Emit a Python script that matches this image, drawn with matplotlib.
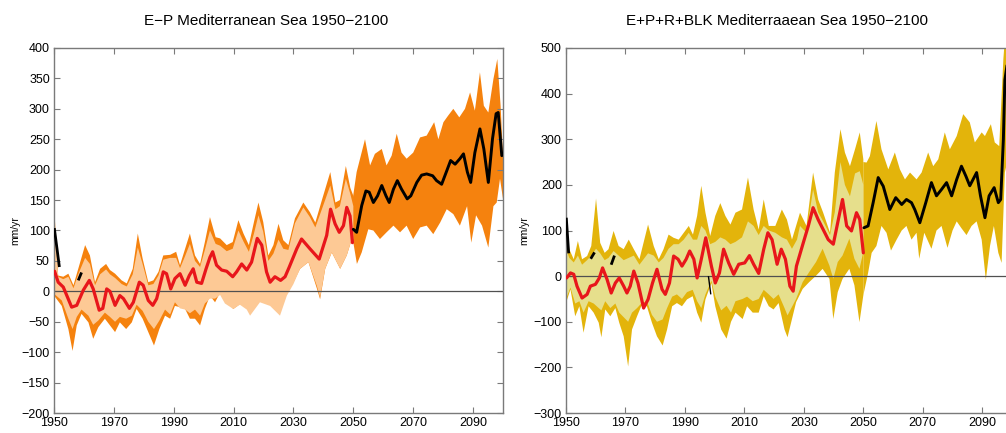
import numpy as np
import matplotlib
matplotlib.use("Agg")
from matplotlib import pyplot as plt

plt.rcParams['font.family'] = ['Liberation Sans', 'DejaVu Sans']

# ---------------- E-P panel ----------------
ep_red_x = [1950.2, 1951.4, 1953.1, 1955.9, 1957.6, 1959.8, 1961.8, 1963.1, 1965.1, 1966.3,
            1967.6, 1968.7, 1970.4, 1972.0, 1973.2, 1975.2, 1976.5, 1978.5, 1979.8, 1981.5,
            1983.0, 1984.3, 1986.5, 1987.6, 1989.0, 1990.4, 1992.1, 1993.8, 1995.2, 1996.5,
            1997.7, 1999.3, 2000.8, 2002.1, 2003.0, 2004.3, 2006.0, 2007.7, 2009.7, 2011.0,
            2012.7, 2014.4, 2016.0, 2017.9, 2019.4, 2021.0, 2022.2, 2023.8, 2025.7, 2027.2,
            2028.6, 2031.1, 2032.7, 2035.5, 2038.6, 2041.1, 2042.4, 2043.9, 2045.3, 2046.7,
            2047.8, 2048.9, 2049.7]
ep_red = [33, 15, 7, -26, -23, 2, 18, 4, -31, -28,
          4, 0, -23, -7, -12, -28, -18, 15, 10, -15,
          -23, -12, 32, 29, 4, 21, 29, 10, 26, 37,
          15, 13, 37, 56, 65, 43, 35, 33, 24, 32,
          45, 35, 48, 87, 76, 32, 15, 24, 18, 24,
          40, 70, 86, 70, 53, 92, 135, 111, 97, 108,
          138, 124, 80]

ep_black_x = [2050.0, 2051.1, 2052.8, 2054.2, 2055.3, 2056.7, 2058.1, 2059.5, 2060.9, 2062.0,
              2063.4, 2064.7, 2066.1, 2068.0, 2069.2, 2071.2, 2072.8, 2074.5, 2076.5, 2077.8,
              2079.5, 2081.2, 2082.5, 2084.0, 2085.6, 2086.8, 2088.1, 2089.2, 2090.6, 2092.3,
              2093.6, 2095.1, 2096.5, 2097.7, 2098.4, 2099.6]
ep_black = [102, 97, 141, 165, 163, 146, 157, 174, 157, 146,
            168, 182, 168, 152, 157, 179, 191, 193, 190, 182,
            176, 198, 215, 209, 218, 226, 196, 179, 228, 267,
            234, 179, 251, 292, 294, 223]

# short pieces of the black curve showing through the historical bands
ep_bits_x = [[1950.1, 1951.8], [1958.1, 1959.2]]
ep_bits = [[104, 40], [18, 31]]

ep_hi_x = [1950.0, 1950.6, 1951.4, 1953.1, 1954.8, 1956.5, 1958.1, 1960.4, 1962.0, 1963.7,
           1965.4, 1967.4, 1968.7, 1970.4, 1972.6, 1974.3, 1976.3, 1978.0, 1979.6, 1981.5,
           1983.2, 1984.9, 1986.5, 1988.8, 1990.8, 1992.1, 1993.8, 1995.4, 1997.1, 1998.8,
           2000.4, 2002.1, 2004.0, 2005.5, 2007.7, 2009.7, 2011.6, 2013.3, 2015.1, 2016.8,
           2018.3, 2019.9, 2021.6, 2023.3, 2025.0, 2026.6, 2028.3, 2030.5, 2033.3, 2035.5,
           2037.3, 2039.5, 2042.3, 2044.0, 2045.5, 2047.5, 2049.0, 2050.0]
ep_dark_hi = [147, 90, 26, 24, 29, 10, 37, 76, 59, 15,
              37, 45, 35, 29, 18, 13, 37, 95, 54, 15,
              18, 32, 59, 60, 65, 43, 70, 95, 59, 45,
              81, 122, 89, 87, 76, 81, 117, 95, 76, 114,
              146, 114, 59, 76, 111, 84, 76, 120, 146, 130,
              113, 150, 196, 146, 150, 206, 170, 157]
ep_light_hi = [140, 85, 24, 20, 24, 5, 28, 55, 45, 10,
               28, 36, 28, 22, 12, 8, 28, 72, 45, 10,
               12, 26, 52, 55, 55, 38, 58, 78, 50, 40,
               68, 100, 78, 75, 66, 70, 100, 82, 65, 95,
               125, 98, 50, 62, 85, 70, 68, 112, 138, 122,
               105, 135, 174, 135, 140, 185, 160, 140]

ep_lo_x = [1950.0, 1952.6, 1954.8, 1956.2, 1957.6, 1959.2, 1961.5, 1963.1, 1964.8, 1967.0,
           1968.7, 1970.4, 1972.0, 1974.1, 1976.0, 1977.6, 1979.6, 1981.5, 1983.4, 1985.2,
           1987.1, 1988.8, 1990.4, 1992.1, 1993.8, 1995.4, 1997.1, 1998.8, 2000.4, 2002.1,
           2003.8, 2005.5, 2007.1, 2009.9, 2012.1, 2014.4, 2015.5, 2018.8, 2022.2, 2025.5,
           2027.8, 2030.0, 2032.2, 2035.0, 2037.8, 2038.9, 2040.6, 2042.8, 2045.6, 2047.8,
           2049.5, 2050.0]
ep_dark_lo = [-7, -24, -62, -98, -56, -37, -51, -78, -59, -45,
              -56, -67, -51, -62, -51, -29, -45, -67, -89, -62,
              -40, -45, -24, -26, -29, -45, -45, -56, -29, -7,
              -18, -2, -13, -29, -21, -7, -5, -2, -10, -5,
              1, 15, 37, 48, 5, -13, 37, 64, 37, 59,
              86, 86]
ep_light_lo = [-4, -15, -45, -62, -42, -30, -40, -55, -48, -35,
               -42, -50, -42, -45, -40, -22, -32, -50, -62, -48,
               -30, -38, -18, -28, -30, -36, -30, -40, -20, -12,
               -12, -6, -20, -29, -22, -30, -40, -18, -24, -40,
               -7, 12, 37, 48, 9, -10, 37, 64, 37, 59,
               86, 86]

ep_fut_hi_x = [2049.8, 2051.1, 2053.9, 2055.6, 2057.2, 2059.5, 2061.1, 2062.8, 2064.5, 2066.1,
               2067.8, 2070.0, 2072.3, 2074.5, 2077.0, 2078.4, 2080.1, 2081.7, 2083.4, 2085.4,
               2087.3, 2089.0, 2090.6, 2092.3, 2093.6, 2095.1, 2096.8, 2098.1, 2099.2, 2100.0]
ep_fut_hi = [152, 196, 250, 207, 226, 234, 207, 223, 259, 228,
             218, 228, 253, 256, 278, 250, 278, 289, 300, 286,
             300, 327, 297, 360, 305, 294, 349, 382, 305, 223]
ep_fut_lo_x = [2049.8, 2051.2, 2052.8, 2055.0, 2056.7, 2058.9, 2061.1, 2063.4, 2065.6, 2067.8,
               2070.0, 2072.3, 2074.5, 2076.7, 2079.0, 2081.2, 2083.4, 2085.6, 2088.0, 2089.4,
               2091.0, 2093.0, 2095.1, 2096.8, 2097.9, 2099.0, 2100.0]
ep_fut_lo = [86, 45, 64, 102, 100, 86, 97, 108, 97, 108,
             86, 105, 108, 94, 113, 135, 127, 108, 140, 80,
             125, 108, 72, 140, 146, 185, 152]

# ---------------- E+P+R+BLK panel ----------------
bk_red_x = [1950.2, 1951.5, 1952.6, 1953.7, 1955.4, 1957.1, 1958.2, 1959.9, 1961.2, 1962.3,
            1963.8, 1965.2, 1966.6, 1967.9, 1969.4, 1970.5, 1971.6, 1972.8, 1974.2, 1976.1,
            1977.6, 1979.1, 1980.6, 1982.3, 1983.4, 1984.8, 1986.2, 1987.7, 1989.0, 1990.4,
            1991.6, 1993.0, 1994.1, 1995.5, 1997.0, 1998.9, 2000.2, 2001.6, 2003.0, 2004.7,
            2006.4, 2008.1, 2010.1, 2011.7, 2013.1, 2014.8, 2016.5, 2017.9, 2019.3, 2021.0,
            2022.4, 2023.8, 2025.3, 2026.4, 2027.5, 2029.8, 2031.5, 2033.1, 2034.8, 2036.5,
            2038.2, 2039.9, 2041.6, 2043.0, 2044.4, 2046.0, 2047.7, 2048.8, 2050.0]
bk_red = [-4, 7, 4, -22, -48, -40, -22, -18, -4, 18,
          -7, -37, -15, -4, -22, -37, -22, 11, -15, -70,
          -51, -15, 15, -29, -40, -15, 44, 37, 22, 37,
          55, 37, -4, 37, 84, 22, -15, 7, 59, 29,
          4, 26, 29, 45, 26, 6, 59, 95, 80, 26,
          59, 37, -22, -33, 22, 73, 110, 150, 124, 102,
          80, 70, 124, 168, 110, 99, 139, 124, 51]

bk_black_x = [2050.2, 2051.6, 2053.3, 2055.0, 2056.7, 2058.9, 2060.9, 2062.9, 2064.5, 2066.2,
              2067.3, 2069.0, 2071.0, 2072.9, 2074.6, 2076.3, 2078.0, 2079.7, 2081.4, 2083.0,
              2084.5, 2085.8, 2088.1, 2089.4, 2090.9, 2092.3, 2094.0, 2095.4, 2096.2, 2097.1,
              2097.6, 2098.5]
bk_black = [106, 110, 161, 216, 197, 146, 172, 157, 168, 161,
            146, 117, 161, 205, 176, 190, 205, 176, 212, 241,
            219, 198, 227, 176, 128, 176, 194, 161, 168, 300,
            430, 470]

bk_bits_x = [[1950.1, 1950.9], [1958.3, 1959.6], [1965.2, 1966.3], [1997.9, 1998.7]]
bk_bits = [[128, 50], [38, 52], [25, 45], [0, -40]]
bk_bits_lw = [2.0, 2.0, 2.0, 1.0]
ep_bits_lw = [2.0, 2.0]

bk_hi_x = [1950.0, 1951.1, 1952.6, 1954.0, 1955.4, 1957.1, 1958.5, 1960.1, 1961.5, 1963.0,
           1964.3, 1966.0, 1967.7, 1969.4, 1971.1, 1972.8, 1974.7, 1977.6, 1979.5, 1981.2,
           1982.8, 1984.5, 1986.2, 1987.9, 1989.6, 1991.3, 1992.7, 1994.1, 1995.5, 1996.9,
           1998.5, 2000.2, 2001.9, 2003.6, 2005.3, 2007.0, 2009.2, 2011.2, 2013.1, 2014.8,
           2016.5, 2018.2, 2020.4, 2022.6, 2024.3, 2026.0, 2027.7, 2028.7, 2030.9, 2033.1,
           2034.8, 2036.5, 2038.8, 2040.4, 2042.3, 2043.8, 2045.5, 2047.2, 2048.8, 2050.0]
bk_dark_hi = [120, 59, 37, 77, 37, 44, 66, 170, 73, 51,
              59, 99, 66, 59, 80, 59, 37, 113, 66, 37,
              59, 91, 84, 80, 95, 110, 91, 132, 198, 139,
              88, 132, 160, 132, 113, 139, 146, 216, 146, 102,
              168, 110, 110, 146, 124, 80, 117, 139, 110, 227,
              168, 139, 95, 227, 322, 271, 241, 278, 315, 256]
bk_light_hi = [60, 40, 30, 45, 25, 35, 45, 60, 50, 35,
               40, 55, 45, 35, 40, 45, 25, 50, 45, 30,
               40, 60, 70, 70, 80, 95, 80, 80, 110, 100,
               70, 75, 85, 80, 70, 75, 85, 120, 110, 90,
               110, 100, 95, 85, 80, 60, 80, 110, 95, 190,
               140, 120, 90, 140, 250, 200, 175, 225, 230, 200]

bk_lo_x = [1950.0, 1951.5, 1953.1, 1954.5, 1955.9, 1957.6, 1959.3, 1961.0, 1961.9, 1963.2,
           1964.9, 1966.6, 1967.9, 1969.4, 1970.9, 1972.2, 1973.9, 1975.3, 1977.2, 1978.9,
           1980.6, 1982.5, 1984.0, 1985.7, 1987.3, 1989.0, 1990.7, 1992.6, 1994.1, 1995.5,
           1996.9, 1998.9, 2000.2, 2002.2, 2004.0, 2005.5, 2007.0, 2009.4, 2010.9, 2012.8,
           2014.8, 2016.5, 2018.2, 2019.8, 2021.5, 2023.5, 2024.5, 2027.4, 2029.6, 2031.8,
           2034.1, 2036.3, 2038.6, 2039.9, 2041.4, 2043.0, 2045.3, 2047.0, 2048.7, 2050.0]
bk_dark_lo = [-59, -29, -88, -66, -124, -66, -80, -102, -134, -73,
              -88, -70, -102, -132, -198, -117, -88, -66, -66, -102,
              -132, -152, -117, -66, -59, -66, -51, -44, -80, -102,
              -51, -15, -66, -117, -137, -100, -80, -94, -66, -80,
              -80, -44, -66, -73, -59, -117, -134, -57, -28, -13,
              1, 16, -6, -94, -35, -6, 16, -20, -101, -42]
bk_light_lo = [-50, -25, -60, -55, -80, -55, -60, -70, -75, -55,
               -70, -60, -80, -90, -100, -80, -70, -60, -55, -85,
               -100, -95, -70, -45, -40, -50, -35, -30, -55, -70,
               -40, -10, -45, -75, -65, -80, -55, -50, -45, -55,
               -50, -30, -40, -50, -40, -70, -86, -50, -13, 9,
               31, 60, 23, -6, 31, 45, 82, 38, 16, 53]

bk_fut_hi_x = [2050.0, 2051.1, 2052.2, 2054.4, 2056.1, 2058.4, 2060.6, 2062.3, 2064.0, 2065.7,
               2067.9, 2069.6, 2071.8, 2073.5, 2075.2, 2077.4, 2079.1, 2081.4, 2083.6, 2085.8,
               2087.5, 2089.8, 2090.9, 2092.9, 2094.2, 2095.7, 2097.1, 2097.6, 2100.0]
bk_fut_hi = [250, 249, 263, 340, 278, 234, 271, 234, 212, 227,
             212, 227, 271, 241, 256, 315, 278, 307, 355, 337,
             293, 315, 307, 333, 293, 285, 476, 520, 520]
bk_fut_lo_x = [2050.0, 2051.6, 2052.8, 2054.4, 2056.1, 2057.8, 2059.3, 2061.2, 2062.9, 2064.5,
               2066.2, 2067.9, 2068.8, 2070.5, 2072.9, 2074.6, 2076.3, 2078.3, 2080.0, 2081.4,
               2083.0, 2084.7, 2086.4, 2088.1, 2089.8, 2091.2, 2092.6, 2093.9, 2095.4, 2096.5,
               2097.6, 2100.0]
bk_fut_lo = [-42, 7, 51, 66, 110, 95, 56, 80, 100, 110,
             80, 95, 38, 95, 60, 100, 110, 62, 100, 120,
             105, 90, 110, 120, 80, -8, 66, 110, 51, 29,
             227, 300]

x_ticks = [1950, 1970, 1990, 2010, 2030, 2050, 2070, 2090]
ep_yticks = list(range(-200, 401, 50))
bk_yticks = list(range(-300, 501, 100))

DARK_OR, LIGHT_OR = '#F5820E', '#FDC995'
DARK_YE, LIGHT_YE = '#E3B40B', '#E6DF8C'
RED = '#E8161B'
SPINE = '#7a7a7a'


def band(ax, ux, uy, lx, ly, color):
    xs = np.concatenate([ux, lx[::-1]])
    ys = np.concatenate([uy, ly[::-1]])
    ax.fill(xs, ys, color=color, lw=0, zorder=1)


def panel(ax, d, yticks, ylim):
    band(ax, d['hi_x'], d['dark_hi'], d['lo_x'], d['dark_lo'], d['dark'])
    band(ax, d['fut_hi_x'], d['fut_hi'], d['fut_lo_x'], d['fut_lo'], d['dark'])
    band(ax, d['hi_x'], d['light_hi'], d['lo_x'], d['light_lo'], d['light'])
    ax.axhline(0, color='#505050', lw=0.9, zorder=2)
    for bx, by, lw in zip(d['bits_x'], d['bits'], d['bits_lw']):
        ax.plot(bx, by, color='black', lw=lw, zorder=3, solid_capstyle='butt')
    ax.plot(d['red_x'], d['red'], color=RED, lw=2.3, zorder=4,
            solid_joinstyle='round', solid_capstyle='round')
    ax.plot(d['black_x'], d['black'], color='black', lw=2.1, zorder=4,
            solid_joinstyle='round', solid_capstyle='round')
    ax.set_xlim(1950, 2100)
    ax.set_ylim(*ylim)
    ax.set_xticks(x_ticks)
    ax.set_yticks(yticks)
    ax.tick_params(direction='in', top=True, right=True, length=4, width=0.8,
                   color=SPINE, labelsize=9, pad=3)
    for s in ax.spines.values():
        s.set_color(SPINE)
        s.set_linewidth(1.0)


def arr(v):
    return np.asarray(v, dtype=float)


fig = plt.figure(figsize=(10.06, 4.33), dpi=100)

ax1 = fig.add_axes([54 / 1006, 20 / 433, 449 / 1006, 365 / 433])
ax2 = fig.add_axes([566 / 1006, 20 / 433, 446 / 1006, 365 / 433])

ep = dict(hi_x=arr(ep_hi_x), dark_hi=arr(ep_dark_hi), light_hi=arr(ep_light_hi),
          lo_x=arr(ep_lo_x), dark_lo=arr(ep_dark_lo), light_lo=arr(ep_light_lo),
          fut_hi_x=arr(ep_fut_hi_x), fut_hi=arr(ep_fut_hi),
          fut_lo_x=arr(ep_fut_lo_x), fut_lo=arr(ep_fut_lo),
          red_x=ep_red_x, red=ep_red, black_x=ep_black_x, black=ep_black,
          bits_x=ep_bits_x, bits=ep_bits, bits_lw=ep_bits_lw,
          dark=DARK_OR, light=LIGHT_OR)
bk = dict(hi_x=arr(bk_hi_x), dark_hi=arr(bk_dark_hi), light_hi=arr(bk_light_hi),
          lo_x=arr(bk_lo_x), dark_lo=arr(bk_dark_lo), light_lo=arr(bk_light_lo),
          fut_hi_x=arr(bk_fut_hi_x), fut_hi=arr(bk_fut_hi),
          fut_lo_x=arr(bk_fut_lo_x), fut_lo=arr(bk_fut_lo),
          red_x=bk_red_x, red=bk_red, black_x=bk_black_x, black=bk_black,
          bits_x=bk_bits_x, bits=bk_bits, bits_lw=bk_bits_lw,
          dark=DARK_YE, light=LIGHT_YE)

panel(ax1, ep, ep_yticks, (-200, 400))
panel(ax2, bk, bk_yticks, (-300, 500))

fig.text(266 / 1006, 1 - 21 / 433, 'E\u2212P Mediterranean Sea 1950\u22122100',
         ha='center', va='center', fontsize=11)
fig.text(777 / 1006, 1 - 21 / 433, 'E+P+R+BLK Mediterraaean Sea 1950\u22122100',
         ha='center', va='center', fontsize=11)
fig.text(15 / 1006, 1 - 231 / 433, 'mm/yr', rotation=90, ha='center', va='center', fontsize=7.5)
fig.text(524 / 1006, 1 - 231 / 433, 'mm/yr', rotation=90, ha='center', va='center', fontsize=7.5)

fig.savefig('out.png', dpi=100)
